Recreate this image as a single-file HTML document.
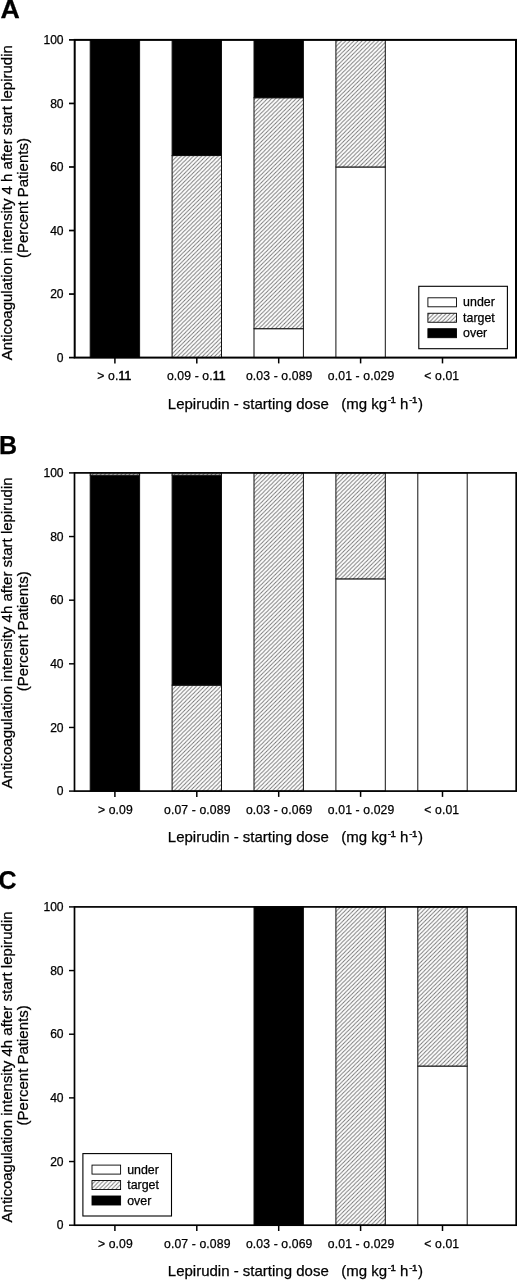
<!DOCTYPE html>
<html lang="en"><head><meta charset="utf-8"><title>Figure</title>
<style>
html,body{margin:0;padding:0;background:#fff;}
body{width:517px;height:1280px;overflow:hidden;}
svg{display:block;}
text{font-family:"Liberation Sans",sans-serif;fill:#000;stroke:#000;stroke-width:0.25px;}
.tk{font-size:12.1px;}
.xt{font-size:12.2px;letter-spacing:0.12px;}
.ax{font-size:15px;}
.sup{font-size:9.6px;letter-spacing:-0.4px;stroke-width:0.4px;}
.pl{font-size:25px;font-weight:bold;fill:#000;}
.lg{font-size:12.4px;}
</style></head><body>
<svg width="517" height="1280" viewBox="0 0 517 1280">
<defs>
<pattern id="h" patternUnits="userSpaceOnUse" width="4.1" height="4.1" x="1.2" y="0">
<rect width="4.1" height="4.1" fill="#fff"/>
<path d="M-1,1 L1,-1 M0,4.1 L4.1,0 M3.1,5.1 L5.1,3.1" stroke="#727272" stroke-width="0.9" fill="none"/>
</pattern>
</defs>
<rect width="517" height="1280" fill="#fff"/>

<g>
<text class="pl" transform="translate(0.4 18.2) scale(1.07 1)">A</text>
<rect x="90.2" y="39.9" width="49.4" height="317.7" fill="#000" stroke="#111" stroke-width="1"/>
<rect x="172.1" y="155.54" width="49.4" height="202.06" fill="url(#h)" stroke="#111" stroke-width="1"/>
<rect x="172.1" y="39.9" width="49.4" height="115.64" fill="#000" stroke="#111" stroke-width="1"/>
<rect x="254" y="328.69" width="49.4" height="28.91" fill="#fff" stroke="#111" stroke-width="1"/>
<rect x="254" y="97.72" width="49.4" height="230.97" fill="url(#h)" stroke="#111" stroke-width="1"/>
<rect x="254" y="39.9" width="49.4" height="57.82" fill="#000" stroke="#111" stroke-width="1"/>
<rect x="335.9" y="166.98" width="49.4" height="190.62" fill="#fff" stroke="#111" stroke-width="1"/>
<rect x="335.9" y="39.9" width="49.4" height="127.08" fill="url(#h)" stroke="#111" stroke-width="1"/>
<rect x="74.7" y="39.9" width="441.3" height="317.7" fill="none" stroke="#000" stroke-width="2"/>
<line x1="69" y1="357.6" x2="74.7" y2="357.6" stroke="#000" stroke-width="1.7"/>
<text class="tk" x="63.6" y="361.8" text-anchor="end">0</text>
<line x1="69" y1="294.06" x2="74.7" y2="294.06" stroke="#000" stroke-width="1.7"/>
<text class="tk" x="63.6" y="298.26" text-anchor="end">20</text>
<line x1="69" y1="230.52" x2="74.7" y2="230.52" stroke="#000" stroke-width="1.7"/>
<text class="tk" x="63.6" y="234.72" text-anchor="end">40</text>
<line x1="69" y1="166.98" x2="74.7" y2="166.98" stroke="#000" stroke-width="1.7"/>
<text class="tk" x="63.6" y="171.18" text-anchor="end">60</text>
<line x1="69" y1="103.44" x2="74.7" y2="103.44" stroke="#000" stroke-width="1.7"/>
<text class="tk" x="63.6" y="107.64" text-anchor="end">80</text>
<line x1="69" y1="39.9" x2="74.7" y2="39.9" stroke="#000" stroke-width="1.7"/>
<text class="tk" x="63.6" y="44.1" text-anchor="end">100</text>
<line x1="114.9" y1="357.6" x2="114.9" y2="363.4" stroke="#000" stroke-width="1.5"/>
<text class="xt" x="114.4" y="380" text-anchor="middle">&gt; o.<tspan stroke-width="0.55">11</tspan></text>
<line x1="196.8" y1="357.6" x2="196.8" y2="363.4" stroke="#000" stroke-width="1.5"/>
<text class="xt" x="196.3" y="380" text-anchor="middle">o.09 - o.<tspan stroke-width="0.55">11</tspan></text>
<line x1="278.7" y1="357.6" x2="278.7" y2="363.4" stroke="#000" stroke-width="1.5"/>
<text class="xt" x="279.2" y="380" text-anchor="middle">o.03 - o.089</text>
<line x1="360.6" y1="357.6" x2="360.6" y2="363.4" stroke="#000" stroke-width="1.5"/>
<text class="xt" x="361.1" y="380" text-anchor="middle">o.01 - o.029</text>
<line x1="442.5" y1="357.6" x2="442.5" y2="363.4" stroke="#000" stroke-width="1.5"/>
<text class="xt" x="441.8" y="380" text-anchor="middle">&lt; o.01</text>
<text class="ax" x="167.8" y="408.8" xml:space="preserve">Lepirudin - starting dose   (mg kg<tspan class="sup" dy="-5.5" dx="0.6">-1</tspan><tspan dy="5.5" dx="0.4"> h</tspan><tspan class="sup" dy="-5.5" dx="0.9">-1</tspan><tspan dy="5.5" dx="1.0">)</tspan></text>
<text class="ax" transform="translate(11.7 202.75) rotate(-90)" text-anchor="middle">Anticoagulation intensity 4 h after start lepirudin</text>
<text class="ax" transform="translate(28.1 198.05) rotate(-90)" text-anchor="middle">(Percent Patients)</text>
<rect x="418.8" y="286.3" width="88.6" height="62.4" fill="#fff" stroke="#000" stroke-width="1.1"/>
<rect x="427.9" y="297.8" width="28.6" height="9" fill="#fff" stroke="#000" stroke-width="0.9"/>
<text class="lg" x="463.1" y="306.3">under</text>
<rect x="427.9" y="313.25" width="28.6" height="9" fill="url(#h)" stroke="#000" stroke-width="0.9"/>
<text class="lg" x="463.1" y="321.75">target</text>
<rect x="427.9" y="328.7" width="28.6" height="9" fill="#000" stroke="#000" stroke-width="0.9"/>
<text class="lg" x="463.1" y="337.2">over</text>
</g>
<g>
<text class="pl" transform="translate(-0.9 454.1) scale(1 1)">B</text>
<rect x="90.2" y="475.13" width="49.4" height="315.97" fill="#000" stroke="#111" stroke-width="1"/>
<rect x="90.2" y="472.9" width="49.4" height="2.23" fill="url(#h)" stroke="#111" stroke-width="1"/>
<rect x="172.1" y="685.14" width="49.4" height="105.96" fill="url(#h)" stroke="#111" stroke-width="1"/>
<rect x="172.1" y="475.13" width="49.4" height="210.01" fill="#000" stroke="#111" stroke-width="1"/>
<rect x="172.1" y="472.9" width="49.4" height="2.23" fill="url(#h)" stroke="#111" stroke-width="1"/>
<rect x="254" y="472.9" width="49.4" height="318.2" fill="url(#h)" stroke="#111" stroke-width="1"/>
<rect x="335.9" y="578.86" width="49.4" height="212.24" fill="#fff" stroke="#111" stroke-width="1"/>
<rect x="335.9" y="472.9" width="49.4" height="105.96" fill="url(#h)" stroke="#111" stroke-width="1"/>
<rect x="417.8" y="472.9" width="49.4" height="318.2" fill="#fff" stroke="#111" stroke-width="1"/>
<rect x="74.5" y="472.9" width="441.7" height="318.2" fill="none" stroke="#000" stroke-width="1.7"/>
<line x1="69" y1="791.1" x2="74.5" y2="791.1" stroke="#000" stroke-width="1.44"/>
<text class="tk" x="63.6" y="795.3" text-anchor="end">0</text>
<line x1="69" y1="727.46" x2="74.5" y2="727.46" stroke="#000" stroke-width="1.44"/>
<text class="tk" x="63.6" y="731.66" text-anchor="end">20</text>
<line x1="69" y1="663.82" x2="74.5" y2="663.82" stroke="#000" stroke-width="1.44"/>
<text class="tk" x="63.6" y="668.02" text-anchor="end">40</text>
<line x1="69" y1="600.18" x2="74.5" y2="600.18" stroke="#000" stroke-width="1.44"/>
<text class="tk" x="63.6" y="604.38" text-anchor="end">60</text>
<line x1="69" y1="536.54" x2="74.5" y2="536.54" stroke="#000" stroke-width="1.44"/>
<text class="tk" x="63.6" y="540.74" text-anchor="end">80</text>
<line x1="69" y1="472.9" x2="74.5" y2="472.9" stroke="#000" stroke-width="1.44"/>
<text class="tk" x="63.6" y="477.1" text-anchor="end">100</text>
<line x1="114.9" y1="791.1" x2="114.9" y2="796.9" stroke="#000" stroke-width="1.5"/>
<text class="xt" x="115.4" y="813.5" text-anchor="middle">&gt; o.09</text>
<line x1="196.8" y1="791.1" x2="196.8" y2="796.9" stroke="#000" stroke-width="1.5"/>
<text class="xt" x="197.3" y="813.5" text-anchor="middle">o.07 - o.089</text>
<line x1="278.7" y1="791.1" x2="278.7" y2="796.9" stroke="#000" stroke-width="1.5"/>
<text class="xt" x="279.2" y="813.5" text-anchor="middle">o.03 - o.069</text>
<line x1="360.6" y1="791.1" x2="360.6" y2="796.9" stroke="#000" stroke-width="1.5"/>
<text class="xt" x="361.1" y="813.5" text-anchor="middle">o.01 - o.029</text>
<line x1="442.5" y1="791.1" x2="442.5" y2="796.9" stroke="#000" stroke-width="1.5"/>
<text class="xt" x="441.8" y="813.5" text-anchor="middle">&lt; o.01</text>
<text class="ax" x="167.8" y="842.3" xml:space="preserve">Lepirudin - starting dose   (mg kg<tspan class="sup" dy="-5.5" dx="0.6">-1</tspan><tspan dy="5.5" dx="0.4"> h</tspan><tspan class="sup" dy="-5.5" dx="0.9">-1</tspan><tspan dy="5.5" dx="1.0">)</tspan></text>
<text class="ax" transform="translate(11.7 632.9) rotate(-90)" text-anchor="middle">Anticoagulation intensity 4h after start lepirudin</text>
<text class="ax" transform="translate(28.1 631.3) rotate(-90)" text-anchor="middle">(Percent Patients)</text>
</g>
<g>
<text class="pl" transform="translate(-1.4 888.8) scale(1 1)">C</text>
<rect x="254" y="906.9" width="49.4" height="318.3" fill="#000" stroke="#111" stroke-width="1"/>
<rect x="335.9" y="906.9" width="49.4" height="318.3" fill="url(#h)" stroke="#111" stroke-width="1"/>
<rect x="417.8" y="1066.05" width="49.4" height="159.15" fill="#fff" stroke="#111" stroke-width="1"/>
<rect x="417.8" y="906.9" width="49.4" height="159.15" fill="url(#h)" stroke="#111" stroke-width="1"/>
<rect x="74.5" y="906.9" width="441.7" height="318.3" fill="none" stroke="#000" stroke-width="1.7"/>
<line x1="69" y1="1225.2" x2="74.5" y2="1225.2" stroke="#000" stroke-width="1.44"/>
<text class="tk" x="63.6" y="1229.4" text-anchor="end">0</text>
<line x1="69" y1="1161.54" x2="74.5" y2="1161.54" stroke="#000" stroke-width="1.44"/>
<text class="tk" x="63.6" y="1165.74" text-anchor="end">20</text>
<line x1="69" y1="1097.88" x2="74.5" y2="1097.88" stroke="#000" stroke-width="1.44"/>
<text class="tk" x="63.6" y="1102.08" text-anchor="end">40</text>
<line x1="69" y1="1034.22" x2="74.5" y2="1034.22" stroke="#000" stroke-width="1.44"/>
<text class="tk" x="63.6" y="1038.42" text-anchor="end">60</text>
<line x1="69" y1="970.56" x2="74.5" y2="970.56" stroke="#000" stroke-width="1.44"/>
<text class="tk" x="63.6" y="974.76" text-anchor="end">80</text>
<line x1="69" y1="906.9" x2="74.5" y2="906.9" stroke="#000" stroke-width="1.44"/>
<text class="tk" x="63.6" y="911.1" text-anchor="end">100</text>
<line x1="114.9" y1="1225.2" x2="114.9" y2="1231" stroke="#000" stroke-width="1.5"/>
<text class="xt" x="115.4" y="1247.6" text-anchor="middle">&gt; o.09</text>
<line x1="196.8" y1="1225.2" x2="196.8" y2="1231" stroke="#000" stroke-width="1.5"/>
<text class="xt" x="197.3" y="1247.6" text-anchor="middle">o.07 - o.089</text>
<line x1="278.7" y1="1225.2" x2="278.7" y2="1231" stroke="#000" stroke-width="1.5"/>
<text class="xt" x="279.2" y="1247.6" text-anchor="middle">o.03 - o.069</text>
<line x1="360.6" y1="1225.2" x2="360.6" y2="1231" stroke="#000" stroke-width="1.5"/>
<text class="xt" x="361.1" y="1247.6" text-anchor="middle">o.01 - o.029</text>
<line x1="442.5" y1="1225.2" x2="442.5" y2="1231" stroke="#000" stroke-width="1.5"/>
<text class="xt" x="441.8" y="1247.6" text-anchor="middle">&lt; o.01</text>
<text class="ax" x="167.8" y="1276.4" xml:space="preserve">Lepirudin - starting dose   (mg kg<tspan class="sup" dy="-5.5" dx="0.6">-1</tspan><tspan dy="5.5" dx="0.4"> h</tspan><tspan class="sup" dy="-5.5" dx="0.9">-1</tspan><tspan dy="5.5" dx="1.0">)</tspan></text>
<text class="ax" transform="translate(11.7 1066.95) rotate(-90)" text-anchor="middle">Anticoagulation intensity 4h after start lepirudin</text>
<text class="ax" transform="translate(28.1 1065.35) rotate(-90)" text-anchor="middle">(Percent Patients)</text>
<rect x="82.9" y="1153.6" width="88.6" height="62.4" fill="#fff" stroke="#000" stroke-width="1.1"/>
<rect x="92" y="1165.1" width="28.6" height="9" fill="#fff" stroke="#000" stroke-width="0.9"/>
<text class="lg" x="127.2" y="1173.6">under</text>
<rect x="92" y="1180.55" width="28.6" height="9" fill="url(#h)" stroke="#000" stroke-width="0.9"/>
<text class="lg" x="127.2" y="1189.05">target</text>
<rect x="92" y="1196" width="28.6" height="9" fill="#000" stroke="#000" stroke-width="0.9"/>
<text class="lg" x="127.2" y="1204.5">over</text>
</g>
</svg>
</body></html>
